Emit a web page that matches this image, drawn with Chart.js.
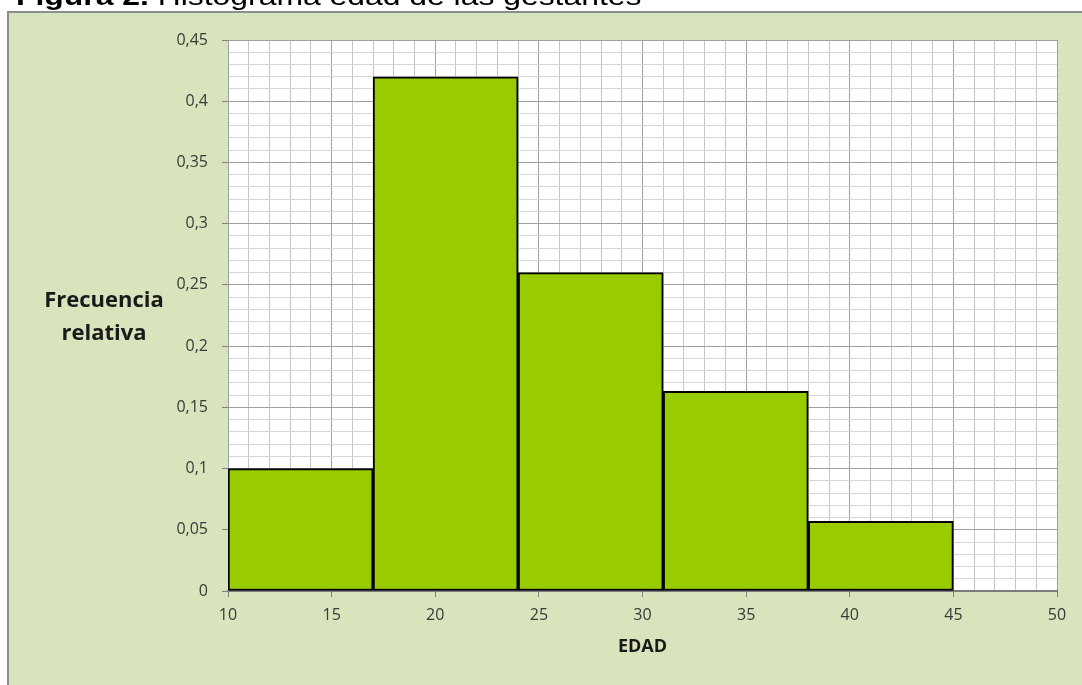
<!DOCTYPE html>
<html>
<head>
<meta charset="utf-8">
<script src="https://cdn.jsdelivr.net/npm/chart.js@4"></script>
<style>
  body { margin: 0; background: #fff; overflow: hidden; }
  #titulo {
    position: absolute; left: 16px; top: -16px; z-index: 2;
    font: 25px/25px 'Liberation Sans', Arial, sans-serif; color: #000;
    white-space: nowrap; transform: scaleX(1.275); transform-origin: 0 0;
  }
  #wrap { position: absolute; left: 0; top: 0; width: 1082px; height: 685px; }
</style>
</head>
<body>
<div id="titulo"><b>Figura 2.</b> Histograma edad de las gestantes</div>
<div id="wrap"><canvas id="histograma" width="1082" height="685"></canvas></div>
<script>
// intervalos de edad y frecuencia relativa
const limitesInf = [10, 17, 24, 31, 38];
const limitesSup = [17, 24, 31, 38, 45];
const frecRelativa = [0.1, 0.42, 0.26, 0.163, 0.057];
const ejeX = [10, 50];     // min, max de EDAD
const ejeY = [0, 0.45];    // min, max de frecuencia

const puntos = limitesInf.map((a, i) => ({ x: (a + limitesSup[i]) / 2, y: frecRelativa[i] }));

const fondo = {
  id: 'fondo',
  beforeDraw(chart) {
    const ctx = chart.ctx;
    const a = chart.chartArea;
    ctx.save();
    ctx.fillStyle = '#ffffff';
    ctx.fillRect(0, 0, chart.width, chart.height);
    ctx.fillStyle = '#d8e4bc';
    ctx.fillRect(8, 12, chart.width, chart.height);
    ctx.strokeStyle = '#8c8c8c';
    ctx.lineWidth = 2;
    ctx.beginPath();
    ctx.moveTo(8, chart.height + 5);
    ctx.lineTo(8, 12);
    ctx.lineTo(chart.width + 5, 12);
    ctx.stroke();
    ctx.fillStyle = '#ffffff';
    ctx.fillRect(a.left, a.top, a.right - a.left, a.bottom - a.top);
    ctx.restore();
  },
  afterDraw(chart) {
    const ctx = chart.ctx;
    const a = chart.chartArea;
    ctx.save();
    ctx.fillStyle = '#1a1a1a';
    ctx.textAlign = 'center';
    ctx.textBaseline = 'middle';
    ctx.font = 'bold 22px "Open Sans"';
    ctx.fillText('Frecuencia', 104, 301);
    ctx.fillText('relativa', 104, 334);
    ctx.font = 'bold 18px "Open Sans"';
    ctx.fillText('EDAD', (a.left + a.right) / 2, 647);
    ctx.restore();
  }
};

const esMayorX = v => Math.round(v) % 5 === 0;
const esMayorY = v => Math.round(v * 100) % 5 === 0;

new Chart(document.getElementById('histograma').getContext('2d'), {
  type: 'bar',
  data: {
    datasets: [{
      data: puntos,
      xAxisID: 'xDatos',
      backgroundColor: '#99cc00',
      borderColor: '#000000',
      borderWidth: 2,
      borderSkipped: false,
      barPercentage: 1,
      categoryPercentage: 1
    }]
  },
  options: {
    responsive: false,
    animation: false,
    layout: { padding: { left: 148, top: 40, right: 25, bottom: 54 } },
    plugins: { legend: { display: false }, tooltip: { enabled: false } },
    scales: {
      // eje de los datos: solo los extremos, asi el ancho de barra sale del intervalo
      xDatos: {
        type: 'linear', display: false,
        min: ejeX[0], max: ejeX[1], offset: false,
        afterBuildTicks: s => { s.ticks = ejeX.map(v => ({ value: v })); }
      },
      x: {
        type: 'linear', position: 'bottom',
        min: ejeX[0], max: ejeX[1],
        offset: false,
        afterFit: s => { s.height = 40; },
        ticks: {
          stepSize: 1, maxTicksLimit: 60, autoSkip: false, maxRotation: 0,
          padding: 9, color: '#3a3a3a', font: { family: 'Open Sans', size: 16 },
          callback: v => esMayorX(v) ? String(v) : ''
        },
        grid: {
          offset: false, lineWidth: 1, tickLength: 6,
          color: c => esMayorX(c.tick.value) ? '#a0a0a0' : '#c4c4c4',
          tickColor: c => esMayorX(c.tick.value) ? '#808080' : 'rgba(0,0,0,0)'
        },
        border: { color: '#7a7a7a', width: 2 }
      },
      y: {
        min: ejeY[0], max: ejeY[1],
        afterFit: s => { s.width = 80; },
        ticks: {
          stepSize: 0.01, maxTicksLimit: 60, autoSkip: false,
          padding: 14, color: '#3a3a3a', font: { family: 'Open Sans', size: 16 },
          callback: v => esMayorY(v) ? String(Math.round(v * 100) / 100).replace('.', ',') : ''
        },
        grid: {
          lineWidth: 1, tickLength: 6,
          color: c => esMayorY(c.tick.value) ? '#a0a0a0' : '#d6d6d6',
          tickColor: c => esMayorY(c.tick.value) ? '#808080' : 'rgba(0,0,0,0)'
        },
        border: { color: '#a0a0a0', width: 1 }
      }
    }
  },
  plugins: [fondo]
});
</script>
</body>
</html>
